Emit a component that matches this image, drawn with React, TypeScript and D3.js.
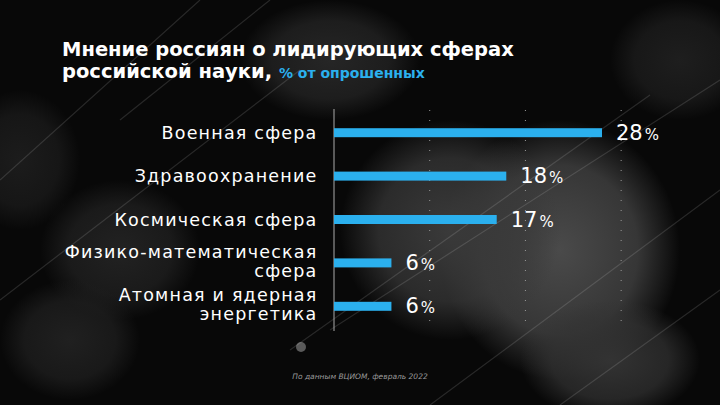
import React from "react";
import * as d3 from "d3";

const categories = [
  ["Военная сфера"],
  ["Здравоохранение"],
  ["Космическая сфера"],
  ["Физико-математическая", "сфера"],
  ["Атомная и ядерная", "энергетика"],
];
const values = [28, 18, 17, 6, 6];
const gridTicks = [10, 20, 30];

const W = 720;
const H = 405;
const FONT = "'DejaVu Sans', 'Open Sans', sans-serif";
const BLUE = "#2bb0ee";

// soft grey blobs behind the chart: [cx, cy, rx, ry, shade]
const blobs: [number, number, number, number, string][] = [
  [560, 250, 120, 130, "#4a4a4a"],
  [450, 230, 110, 110, "#3a3a3a"],
  [610, 360, 90, 60, "#333"],
  [330, 60, 90, 60, "#262626"],
  [120, 250, 80, 70, "#222"],
  [70, 340, 70, 60, "#202020"],
  [680, 60, 70, 60, "#1e1e1e"],
  [20, 160, 60, 70, "#1c1c1c"],
];
// faint diagonal streaks
const streaks = [
  [290, 350, 650, 95],
  [330, 330, 720, 80],
  [0, 180, 200, 0],
  [0, 300, 300, 70],
  [430, 405, 720, 190],
  [560, 405, 720, 290],
  [120, 120, 270, 0],
];

const App = () => {
  const x = d3.scaleLinear().domain([0, 28]).range([334, 602]);
  const y = d3
    .scaleBand<number>()
    .domain(d3.range(values.length))
    .range([111, 328])
    .paddingInner(0.8)
    .paddingOuter(0.4);
  const bh = 9;
  const cy = (i: number) => (y(i) as number) + y.bandwidth() / 2;

  return (
    <svg
      width={W}
      height={H}
      style={{ position: "absolute", left: 0, top: 0, display: "block" }}
    >
      <defs>
        {blobs.map((b, i) => (
          <radialGradient key={i} id={"blob" + i}>
            <stop offset="0%" stopColor={b[4]} />
            <stop offset="65%" stopColor={b[4]} stopOpacity={0.7} />
            <stop offset="100%" stopColor={b[4]} stopOpacity={0} />
          </radialGradient>
        ))}
      </defs>
      <rect width={W} height={H} fill="#080808" />
      {blobs.map((b, i) => (
        <ellipse key={i} cx={b[0]} cy={b[1]} rx={b[2]} ry={b[3]} fill={`url(#blob${i})`} />
      ))}
      <circle cx={301} cy={347} r={5} fill="#5a5a5a" />
      {streaks.map((s, i) => (
        <line
          key={i}
          x1={s[0]}
          y1={s[1]}
          x2={s[2]}
          y2={s[3]}
          stroke="#fff"
          strokeOpacity={0.13}
          strokeWidth={1.2}
        />
      ))}

      {/* title */}
      <text x={62} y={56} fill="#fff" fontFamily={FONT} fontWeight={700} fontSize={19.5}>
        Мнение россиян о лидирующих сферах
      </text>
      <text x={62} y={78} fill="#fff" fontFamily={FONT} fontWeight={700} fontSize={19.5}>
        российской науки,{" "}
        <tspan fill={BLUE} fontSize={14}>
          % от опрошенных
        </tspan>
      </text>

      {/* grid */}
      {gridTicks.map((t) => (
        <line
          key={t}
          x1={x(t)}
          x2={x(t)}
          y1={110}
          y2={330}
          stroke="#9a9a9a"
          strokeWidth={1}
          strokeDasharray="1 9"
        />
      ))}
      <line x1={334} x2={334} y1={109} y2={331} stroke="#aaa" strokeWidth={1} />

      {values.map((v, i) => (
        <g key={i}>
          <rect x={x(0)} y={cy(i) - bh / 2} width={x(v) - x(0)} height={bh} fill={BLUE} />
          <text x={x(v) + 14} y={cy(i) + 7} fill="#fff" fontFamily={FONT} fontSize={21}>
            {v}
            <tspan fontSize={15} dx={2}>
              %
            </tspan>
          </text>
          <text
            x={317.5}
            textAnchor="end"
            fill="#fff"
            fontFamily={FONT}
            fontSize={17.5}
            letterSpacing={1.2}
          >
            {categories[i].map((l, j) => (
              <tspan
                key={j}
                x={317.5}
                y={cy(i) + 6 + (j - (categories[i].length - 1) / 2) * 19 - (categories[i].length - 1) * 1.5}
              >
                {l}
              </tspan>
            ))}
          </text>
        </g>
      ))}

      <text
        x={360}
        y={379}
        textAnchor="middle"
        fill="#9a9a9a"
        fontFamily={FONT}
        fontStyle="italic"
        fontSize={7.5}
      >
        По данным ВЦИОМ, февраль 2022
      </text>
    </svg>
  );
};

export default App;
